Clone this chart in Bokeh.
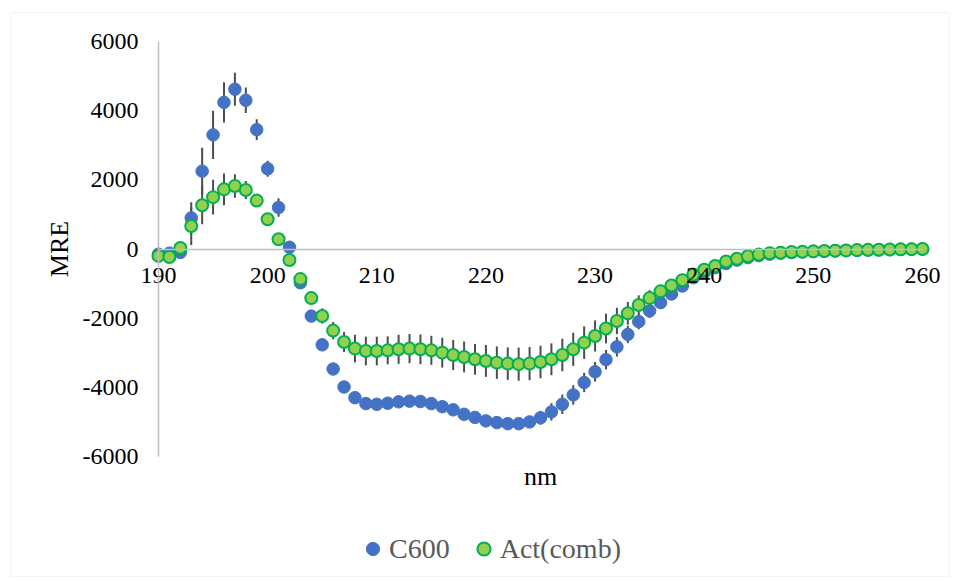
from bokeh.plotting import figure
from bokeh.models import (LinearAxis, FixedTicker, Range1d, Legend, LegendItem,
                          BoxAnnotation, ColumnDataSource)
from bokeh.embed import file_html
from bokeh.resources import INLINE

# ---------------- data ----------------
wavelength = list(range(190, 261))

c600 = [-150, -120, -100, 900, 2250, 3300, 4240, 4620, 4300, 3450,
        2320, 1200, 50, -975, -1940, -2770, -3470, -3990, -4300, -4470,
        -4490, -4460, -4420, -4400, -4410, -4470, -4560, -4650, -4780, -4870,
        -4970, -5020, -5050, -5050, -5000, -4880, -4710, -4490, -4220, -3860,
        -3550, -3200, -2830, -2470, -2100, -1790, -1550, -1300, -1070, -830,
        -680, -540, -420, -320, -250, -190, -150, -120, -100, -85,
        -75, -65, -55, -45, -38, -30, -25, -18, -12, -6, -2]

c600_err = [60, 60, 80, 450, 680, 700, 580, 480, 370, 300,
            230, 270, 180, 150, 150, 150, 150, 150, 150, 150,
            150, 150, 150, 150, 150, 150, 150, 150, 150, 150,
            150, 150, 150, 150, 150, 200, 250, 280, 280, 280,
            280, 280, 280, 250, 220, 200, 180, 160, 150, 130,
            120, 110, 100, 90, 80, 70, 60, 55, 50, 45,
            40, 40, 35, 35, 30, 30, 30, 30, 30, 30, 30]

act = [-200, -230, 30, 665, 1263, 1500, 1725, 1820, 1705, 1400,
       860, 280, -320, -870, -1420, -1936, -2360, -2690, -2880, -2950,
       -2950, -2930, -2900, -2880, -2900, -2930, -2997, -3064, -3121, -3189,
       -3237, -3286, -3314, -3330, -3314, -3266, -3189, -3064, -2900, -2708,
       -2514, -2300, -2080, -1860, -1620, -1420, -1225, -1055, -900, -740,
       -600, -490, -360, -280, -210, -160, -125, -106, -87, -77,
       -68, -58, -48, -40, -32, -25, -20, -15, -10, -5, 0]

act_err = [60, 60, 100, 550, 550, 500, 460, 340, 260, 180,
           120, 120, 120, 150, 180, 220, 250, 290, 400, 415,
           415, 405, 420, 420, 430, 420, 430, 435, 445, 445,
           460, 470, 470, 480, 480, 470, 460, 470, 480, 470,
           450, 430, 380, 330, 280, 230, 190, 160, 130, 110,
           100, 90, 80, 70, 60, 55, 50, 45, 40, 40,
           35, 35, 30, 30, 30, 30, 30, 30, 30, 30, 30]

x_ticks = [190, 200, 210, 220, 230, 240, 250, 260]
x_tick_labels = ["190", "200", "210", "220", "230", "240", "250", "260"]
y_ticks = [-6000, -4000, -2000, 0, 2000, 4000, 6000]
y_tick_labels = ["-6000", "-4000", "-2000", "0", "2000", "4000", "6000"]

series_names = ["C600", "Act(comb)"]
x_title = "nm"
y_title = "MRE"

# ---------------- figure ----------------
FONT = "Liberation Serif"
W, H = 956, 581

src = ColumnDataSource(dict(
    x=wavelength, c600=c600, act=act,
    c600_lo=[v - e for v, e in zip(c600, c600_err)],
    c600_hi=[v + e for v, e in zip(c600, c600_err)],
    act_lo=[v - e for v, e in zip(act, act_err)],
    act_hi=[v + e for v, e in zip(act, act_err)],
))

# plot-area placement (pixels) of the axis extents, as in the reference
X_LEFT_PX, X_RIGHT_PX = 158, 922      # x = 190 .. 260
Y_TOP_PX, Y_BOTTOM_PX = 41, 456       # y = 6000 .. -6000
xmin, xmax = x_ticks[0], x_ticks[-1]
ymin, ymax = y_ticks[0], y_ticks[-1]
kx = (xmax - xmin) / (X_RIGHT_PX - X_LEFT_PX)
ky = (ymax - ymin) / (Y_BOTTOM_PX - Y_TOP_PX)
x_range = Range1d(xmin - X_LEFT_PX * kx, xmin + (W - X_LEFT_PX) * kx)
y_range = Range1d(ymax - (H - Y_TOP_PX) * ky, ymax + Y_TOP_PX * ky)

p = figure(width=W, height=H, output_backend="svg", toolbar_location=None,
           x_range=x_range, y_range=y_range,
           x_axis_type=None, y_axis_type=None,
           min_border_left=0, min_border_right=0,
           min_border_top=0, min_border_bottom=0)
p.outline_line_color = None
p.background_fill_color = "white"
p.border_fill_color = "white"

AX_COLOR = "#BFBFBF"

def style_axis(ax):
    ax.major_tick_in = 0
    ax.major_tick_out = 0
    ax.minor_tick_in = 0
    ax.minor_tick_out = 0
    ax.axis_line_color = AX_COLOR
    ax.axis_line_width = 1.5
    ax.major_label_text_font = FONT
    ax.major_label_text_font_size = "24px"
    ax.major_label_text_color = "black"
    ax.axis_label_text_font = FONT
    ax.axis_label_text_font_size = "26px"
    ax.axis_label_text_font_style = "normal"
    ax.axis_label_text_color = "black"

yaxis = LinearAxis(fixed_location=xmin, bounds=(ymin, ymax),
                   ticker=FixedTicker(ticks=y_ticks),
                   major_label_overrides=dict(zip(y_ticks, y_tick_labels)),
                   axis_label=y_title)
style_axis(yaxis)
yaxis.major_label_standoff = 20
yaxis.axis_label_standoff = 6
p.add_layout(yaxis, "left")

xaxis = LinearAxis(fixed_location=0, bounds=(xmin, xmax),
                   ticker=FixedTicker(ticks=x_ticks),
                   major_label_overrides=dict(zip(x_ticks, x_tick_labels)))
style_axis(xaxis)
xaxis.major_label_standoff = 19
p.add_layout(xaxis, "below")

# axis title "nm" under the plot area, centred on the x extent
nm_axis = LinearAxis(fixed_location=ymin, bounds=(xmin, xmax),
                     ticker=FixedTicker(ticks=[]), axis_label=x_title)
style_axis(nm_axis)
nm_axis.axis_line_color = None
nm_axis.major_label_text_font_size = "0px"
nm_axis.axis_label_standoff = 5
p.add_layout(nm_axis, "below")

# error bars
p.segment(x0="x", y0="c600_lo", x1="x", y1="c600_hi", source=src,
          line_color="#4D4D4D", line_width=2)
p.segment(x0="x", y0="act_lo", x1="x", y1="act_hi", source=src,
          line_color="#4D4D4D", line_width=2)

r1 = p.scatter("x", "c600", source=src, size=12.5, fill_color="#4472C4",
               line_color="#4472C4", line_width=1)
r2 = p.scatter("x", "act", source=src, size=12, fill_color="#92D050",
               line_color="#00B050", line_width=2)

legend = Legend(items=[LegendItem(label=series_names[0], renderers=[r1]),
                       LegendItem(label=series_names[1], renderers=[r2])],
                orientation="horizontal", location=(356, 16),
                glyph_width=33, glyph_height=33, label_standoff=0, spacing=17,
                padding=0, margin=0,
                label_text_font=FONT, label_text_font_size="28px",
                label_text_color="#595959",
                background_fill_alpha=0, border_line_color=None)
p.add_layout(legend, "center")

border = BoxAnnotation(left=10, right=949, top=12, bottom=576,
                       left_units="canvas", right_units="canvas",
                       top_units="canvas", bottom_units="canvas",
                       fill_alpha=0, fill_color=None,
                       line_color="#D9D9D9", line_width=1, level="overlay")
p.add_layout(border)

open("out.html", "w").write(file_html(p, INLINE))
